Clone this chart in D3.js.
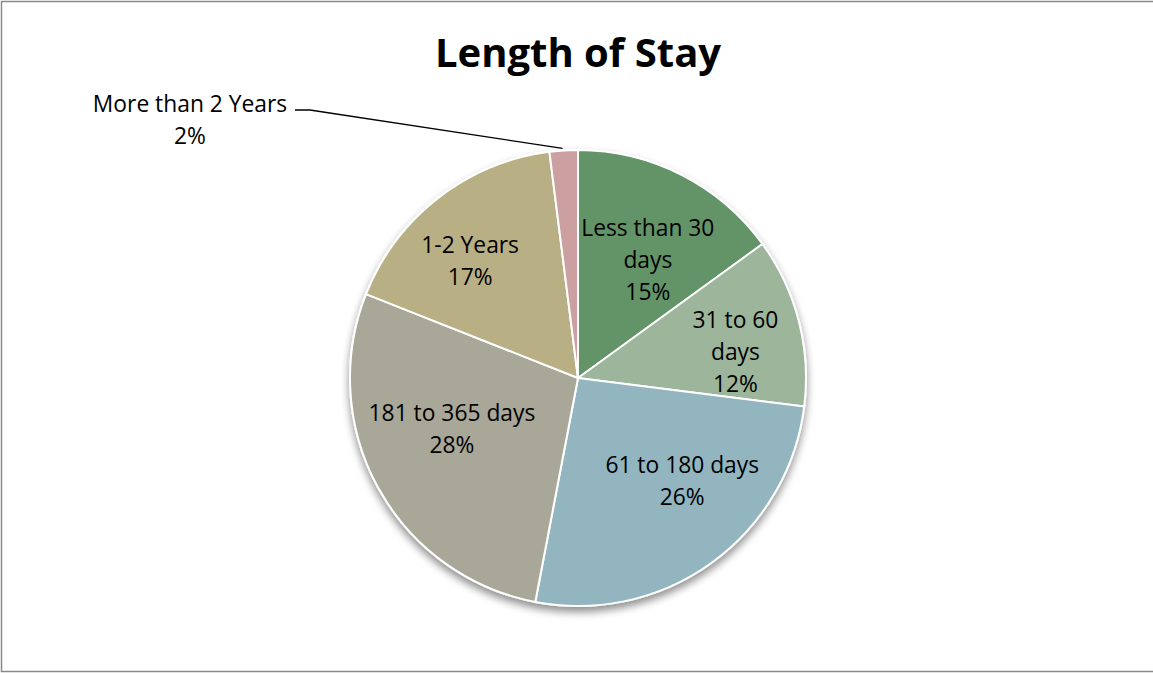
<!DOCTYPE html>
<html><head><meta charset="utf-8">
<script src="https://cdn.jsdelivr.net/npm/d3@7"></script>
<style>html,body{margin:0;padding:0;background:#fff;}svg{display:block;}</style>
</head><body>
<svg id="chart" width="1153" height="673"></svg>
<script>
// ---- data ----
const categories = ["Less than 30 days","31 to 60 days","61 to 180 days","181 to 365 days","1-2 Years","More than 2 Years"];
const values = [15, 12, 26, 28, 17, 2];
const percentLabels = ["15%","12%","26%","28%","17%","2%"];
const colors = ["#639468","#9cb59b","#93b5bf","#a9a797","#b8af84","#cc9fa0"];
const title = "Length of Stay";

// ---- layout ----
const W = 1153, H = 673;
const cx = 578, cy = 378, R = 228;
const labelLines = [["Less than 30","days"],["31 to 60","days"],["61 to 180 days"],["181 to 365 days"],["1-2 Years"],["More than 2 Years"]];
const labelR = 145;
const nudge = [[4,11],[17,10],[19,-14],[1,-19],[-19,-2],[0,0]];
const lineH = 32;
const font = "'Open Sans', sans-serif";
const fs = 22.8;

const svg = d3.select("#chart");
const defs = svg.append("defs");
const f = defs.append("filter").attr("id","sh").attr("x","-20%").attr("y","-20%").attr("width","140%").attr("height","150%");
f.append("feGaussianBlur").attr("in","SourceAlpha").attr("stdDeviation",4).attr("result","b");
f.append("feOffset").attr("in","b").attr("dy",5).attr("result","o");
f.append("feComponentTransfer").attr("in","o").attr("result","o2")
  .append("feFuncA").attr("type","linear").attr("slope",0.45);
const m = f.append("feMerge");
m.append("feMergeNode").attr("in","o2");
m.append("feMergeNode").attr("in","SourceGraphic");

// border (left, top, bottom)
svg.append("path").attr("d",`M${W+5},1.5 H1.5 V671.5 H${W+5}`).attr("fill","none").attr("stroke","#8a8a8a").attr("stroke-width",1.5);

svg.append("text").attr("x",578).attr("y",67).attr("text-anchor","middle")
  .attr("font-family",font).attr("font-weight","bold").attr("font-size",40).attr("fill","#000").text(title);

const pie = d3.pie().sort(null).value(d=>d)(values);
const arc = d3.arc().innerRadius(0).outerRadius(R);
const g = svg.append("g").attr("transform",`translate(${cx},${cy})`);
const sg = g.append("g").attr("filter","url(#sh)");
sg.selectAll("path").data(pie).join("path")
  .attr("d",arc).attr("fill",(d,i)=>colors[i])
  .attr("stroke","#fff").attr("stroke-width",2).attr("stroke-linejoin","round");

// inside labels
pie.forEach((d,i)=>{
  if(i===5) return;
  const a = (d.startAngle+d.endAngle)/2;
  const x = Math.sin(a)*labelR + nudge[i][0];
  const y = -Math.cos(a)*labelR + nudge[i][1];
  const lines = labelLines[i].concat([percentLabels[i]]);
  const t = g.append("text").attr("text-anchor","middle").attr("font-family",font).attr("font-size",fs).attr("fill","#000");
  const y0 = y - (lines.length-1)*lineH/2 + 8;
  lines.forEach((s,k)=>t.append("tspan").attr("x",x).attr("y",y0+k*lineH).text(s));
});

// outside label for the small slice
{
  const d = pie[5];
  const a = (d.startAngle+d.endAngle)/2;
  const px = cx + Math.sin(a)*(R+2)-1, py = cy - Math.cos(a)*(R+2);
  svg.append("path").attr("d",`M295,110 H310 L${px},${py}`).attr("fill","none").attr("stroke","#000").attr("stroke-width",1.3);
  const t = svg.append("text").attr("text-anchor","middle").attr("font-family",font).attr("font-size",fs).attr("fill","#000");
  [labelLines[5][0], percentLabels[5]].forEach((s,k)=>t.append("tspan").attr("x",190).attr("y",112+k*32).text(s));
}
</script>
</body></html>
